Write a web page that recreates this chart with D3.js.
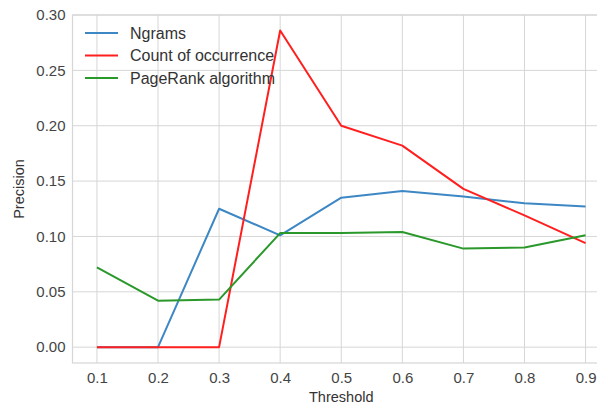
<!DOCTYPE html>
<html>
<head>
<meta charset="utf-8">
<script src="https://cdn.jsdelivr.net/npm/d3@7"></script>
<style>
  body { margin: 0; background: #fff; }
  text { font-family: "Liberation Sans", Arial, sans-serif; }
</style>
</head>
<body>
<svg id="chart" width="597" height="408"></svg>
<script>
const thresholds = [0.1, 0.2, 0.3, 0.4, 0.5, 0.6, 0.7, 0.8, 0.9];
const ngrams = [0, 0, 0.125, 0.101, 0.135, 0.141, 0.136, 0.130, 0.127];
const countOccurrence = [0, 0, 0, 0.286, 0.200, 0.182, 0.143, 0.119, 0.094];
const pageRank = [0.072, 0.042, 0.043, 0.103, 0.103, 0.104, 0.089, 0.090, 0.101];
const yTicks = [0, 0.05, 0.10, 0.15, 0.20, 0.25, 0.30];

const series = [
  {name: "Ngrams", values: ngrams, color: "#3d87c4"},
  {name: "Count of occurrence", values: countOccurrence, color: "#ff1f1f"},
  {name: "PageRank algorithm", values: pageRank, color: "#2a982a"}
];

const svg = d3.select("#chart");
const plotLeft = 72.5, plotRight = 610, plotTop = 15, plotBottom = 363;

const x = d3.scaleLinear().domain([0.06, 0.94]).range([plotLeft, plotRight]);
const y = d3.scaleLinear().domain([-0.0143, 0.3]).range([plotBottom, plotTop]);

// grid
const grid = svg.append("g");
grid.selectAll(".vx").data(thresholds).enter().append("line")
  .attr("x1", d => x(d)).attr("x2", d => x(d))
  .attr("y1", plotTop).attr("y2", plotBottom)
  .style("stroke", "#d6d6d6").style("stroke-width", 1);
grid.selectAll(".hy").data(yTicks).enter().append("line")
  .attr("x1", plotLeft).attr("x2", plotRight)
  .attr("y1", d => y(d)).attr("y2", d => y(d))
  .style("stroke", "#d6d6d6").style("stroke-width", 1);

svg.append("rect")
  .attr("x", plotLeft).attr("y", plotTop)
  .attr("width", plotRight - plotLeft).attr("height", plotBottom - plotTop)
  .style("fill", "none").style("stroke", "#d6d6d6").style("stroke-width", 1.2);

// axis labels
const xAxis = d3.axisBottom(x).tickValues(thresholds).tickSize(0).tickPadding(9).tickFormat(d3.format(".1f"));
const yAxis = d3.axisLeft(y).tickValues(yTicks).tickSize(0).tickPadding(7).tickFormat(d3.format(".2f"));

const gx = svg.append("g").attr("transform", `translate(0,${plotBottom})`).call(xAxis);
const gy = svg.append("g").attr("transform", `translate(${plotLeft},0)`).call(yAxis);
[gx, gy].forEach(g => {
  g.select(".domain").remove();
  g.selectAll("text").style("font-size", "15px").style("fill", "#444")
    .style("font-family", "'Liberation Sans', Arial, sans-serif");
});

svg.append("text")
  .attr("x", (plotLeft + plotRight) / 2).attr("y", 401.5)
  .attr("text-anchor", "middle")
  .style("font-size", "14.5px").style("fill", "#333")
  .text("Threshold");

svg.append("text")
  .attr("transform", `translate(24,${(plotTop + plotBottom) / 2}) rotate(-90)`)
  .attr("text-anchor", "middle")
  .style("font-size", "14.5px").style("fill", "#333")
  .text("Precision");

// lines
const line = d3.line().x((d, i) => x(thresholds[i])).y(d => y(d));
svg.selectAll(".series").data(series).enter().append("path")
  .attr("d", d => line(d.values))
  .style("fill", "none")
  .style("stroke", d => d.color)
  .style("stroke-width", 2)
  .style("stroke-linejoin", "round");

// legend
const legend = svg.append("g");
const items = legend.selectAll("g").data(series).enter().append("g")
  .attr("transform", (d, i) => `translate(85,${33 + i * 22.5})`);
items.append("line")
  .attr("x1", 0).attr("x2", 33)
  .style("stroke", d => d.color).style("stroke-width", 2);
items.append("text")
  .attr("x", 45).attr("dy", "0.35em")
  .style("font-size", "16px").style("fill", "#333")
  .text(d => d.name);
</script>
</body>
</html>
